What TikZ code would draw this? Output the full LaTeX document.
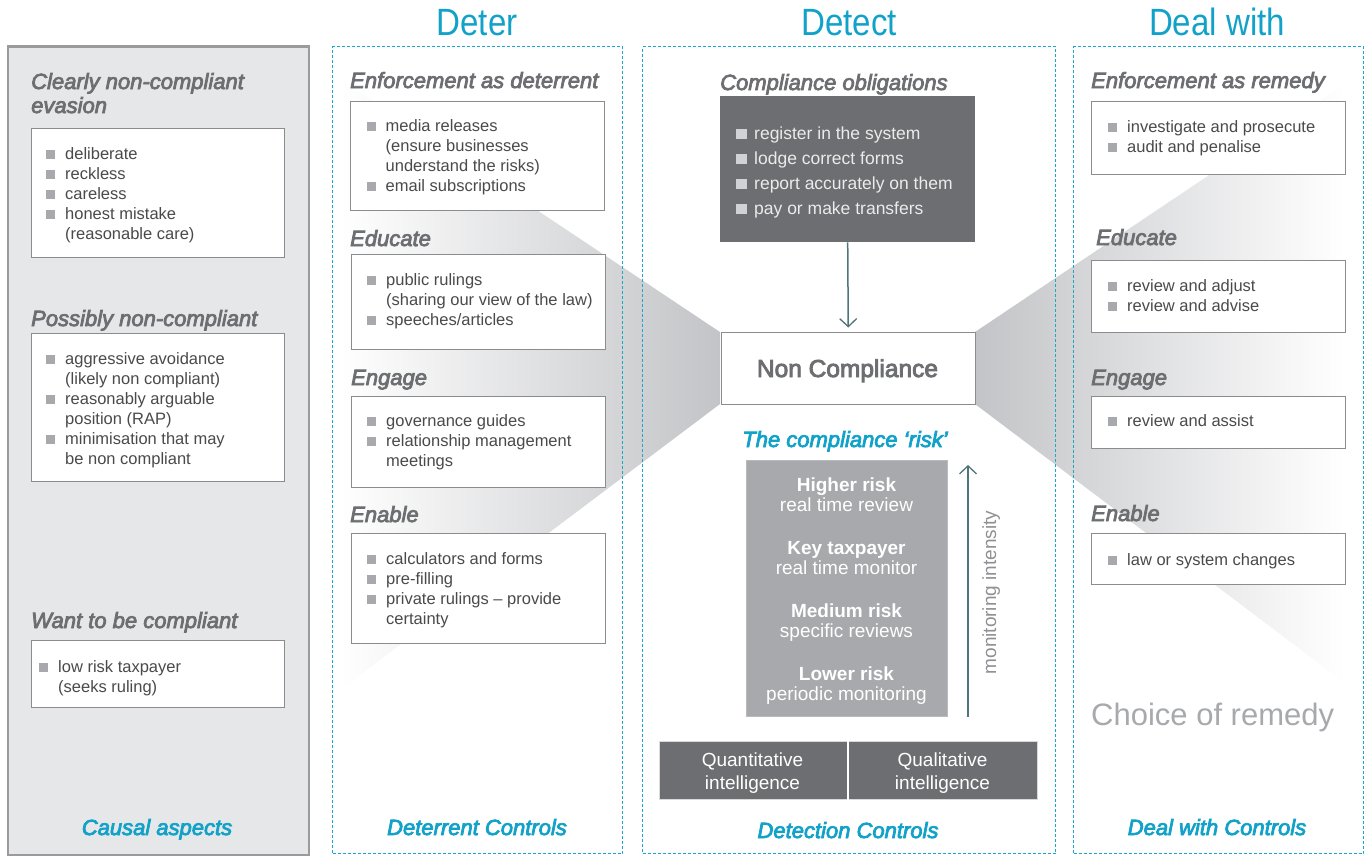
\documentclass[tikz,border=0pt]{standalone}
\usepackage{fontspec}
\setmainfont{Liberation Sans}
\newfontfamily\medfam[FakeBold=3.5]{Liberation Sans}
\newfontfamily\titlefam[FakeStretch=0.87]{Liberation Sans}
\usetikzlibrary{arrows.meta}
\definecolor{cyanT}{HTML}{12A2C9}
\definecolor{dashc}{HTML}{1CA6CE}
\definecolor{headg}{HTML}{6D6E71}
\definecolor{txtg}{HTML}{4A4A4C}
\definecolor{bsq}{HTML}{A7A9AC}
\definecolor{boxb}{HTML}{8C8C8E}
\definecolor{panelbg}{HTML}{E6E7E8}
\definecolor{panelb}{HTML}{9A9B9D}
\definecolor{darkbox}{HTML}{6D6E71}
\definecolor{riskbox}{HTML}{A7A9AC}
\definecolor{arrowc}{HTML}{4F7579}
\definecolor{wedgec}{HTML}{C3C4C7}
\definecolor{lightsq}{HTML}{D1D2D4}
\definecolor{darktext}{HTML}{EBEBEB}
\definecolor{monic}{HTML}{8E9093}
\newcommand{\mystrut}{\rule[-6pt]{0pt}{20pt}}
\newcommand{\dkstrut}{\rule[-7.5pt]{0pt}{25pt}}
\newcommand{\bsqr}{\textcolor{bsq}{\rule{9pt}{9pt}}\hspace{10pt}}
\newcommand{\bindent}{\hspace*{19pt}}
\newcommand{\dsqr}{\textcolor{lightsq}{\rule{10.5pt}{10.5pt}}\hspace{7.5pt}}
\begin{document}
\begin{tikzpicture}[x=1pt,y=-1pt,
  wbox/.style={draw=boxb, line width=1.2pt, fill=white, inner sep=0pt, anchor=north west},
  blist/.style={inner sep=0pt, anchor=north west, align=left, text=txtg, font=\fontsize{16.5}{20}\selectfont},
  dlist/.style={inner sep=0pt, anchor=north west, align=left, text=darktext, font=\fontsize{17.5}{25}\selectfont},
  head/.style={inner sep=0pt, anchor=base west, text=headg, font=\medfam\itshape\fontsize{22}{24}\selectfont},
  ctrl/.style={inner sep=0pt, anchor=base, text=cyanT, font=\medfam\itshape\fontsize{22}{24}\selectfont},
  ttl/.style={inner sep=0pt, anchor=base, text=cyanT, font=\titlefam\fontsize{38}{40}\selectfont},
  col/.style={draw=dashc, line width=1.3pt, dash pattern=on 3pt off 2pt, inner sep=0pt, anchor=north west},
  rtext/.style={inner sep=0pt, anchor=base, text=white, font=\fontsize{19}{20}\selectfont},
  rbold/.style={rtext, font=\bfseries\fontsize{19}{20}\selectfont},
  qtext/.style={inner sep=0pt, anchor=base, text=white, font=\fontsize{19}{23}\selectfont},
  arr/.style={draw=arrowc, line width=1.5pt, -{Straight Barb[length=8pt,width=17pt,line width=1.3pt]}}
]
\useasboundingbox (0,0) rectangle (1370,855);

% gradient wedges
\shade[left color=white, right color=wedgec] (340,79) -- (720,332) -- (720,404) -- (340,690) -- cycle;
\shade[left color=wedgec, right color=white] (975,332) -- (1345,84) -- (1345,683) -- (975,404) -- cycle;

% left panel
\node[draw=panelb, fill=panelbg, line width=1.8pt, inner sep=0pt, anchor=north west,
      minimum width=301pt, minimum height=808pt] (panel) at (7,46) {};
\draw[panelb, line width=3pt] (panel.north west) -- (panel.north east);

% dashed columns
\node[col, minimum width=290pt, minimum height=807pt] (cdeter) at (332,46) {};
\node[col, minimum width=413pt, minimum height=807pt] (cdetect) at (642,46) {};
\node[col, minimum width=290pt, minimum height=807pt] (cdeal) at (1073,46) {};

% titles
\node[ttl] (tdeter) at (477,35) {Deter};
\node[ttl] (tdetect) at (849,35) {Detect};
\node[ttl] (tdeal) at (1217,35) {Deal with};

% ---------- left panel ----------
\node[head] (h1a) at (31,89) {Clearly non-compliant};
\node[head] (h1b) at (31,113) {evasion};
\node[wbox, minimum width=253pt, minimum height=129pt] (b1) at (31,128) {};
\node[blist] (l1) at (46,145) {\bsqr deliberate\mystrut\\ \bsqr reckless\mystrut\\ \bsqr careless\mystrut\\ \bsqr honest mistake\mystrut\\ \bindent(reasonable care)\mystrut};

\node[head] (h2) at (31,326) {Possibly non-compliant};
\node[wbox, minimum width=253pt, minimum height=148pt] (b2) at (31,333) {};
\node[blist] (l2) at (46,350) {\bsqr aggressive avoidance\mystrut\\ \bindent(likely non compliant)\mystrut\\ \bsqr reasonably arguable\mystrut\\ \bindent position (RAP)\mystrut\\ \bsqr minimisation that may\mystrut\\ \bindent be non compliant\mystrut};

\node[head] (h3) at (31,628) {Want to be compliant};
\node[wbox, minimum width=253pt, minimum height=67pt] (b3) at (31,640) {};
\node[blist] (l3) at (39,658) {\bsqr low risk taxpayer\mystrut\\ \bindent(seeks ruling)\mystrut};

\node[ctrl] (cc1) at (157,835) {Causal aspects};

% ---------- Deter ----------
\node[head] (dh1) at (350,88) {Enforcement as deterrent};
\node[wbox, minimum width=254pt, minimum height=109pt] (db1) at (350,101) {};
\node[blist] (dl1) at (366.5,117) {\bsqr media releases\mystrut\\ \bindent(ensure businesses\mystrut\\ \bindent understand the risks)\mystrut\\ \bsqr email subscriptions\mystrut};

\node[head] (dh2) at (350,246) {Educate};
\node[wbox, minimum width=254pt, minimum height=95pt] (db2) at (351,254) {};
\node[blist] (dl2) at (367,271) {\bsqr public rulings\mystrut\\ \bindent(sharing our view of the law)\mystrut\\ \bsqr speeches/articles\mystrut};

\node[head] (dh3) at (351,385) {Engage};
\node[wbox, minimum width=254pt, minimum height=91pt] (db3) at (351,396) {};
\node[blist] (dl3) at (367,412) {\bsqr governance guides\mystrut\\ \bsqr relationship management\mystrut\\ \bindent meetings\mystrut};

\node[head] (dh4) at (350,522) {Enable};
\node[wbox, minimum width=254pt, minimum height=110pt] (db4) at (351,533) {};
\node[blist] (dl4) at (367,550) {\bsqr calculators and forms\mystrut\\ \bsqr pre-filling\mystrut\\ \bsqr private rulings – provide\mystrut\\ \bindent certainty\mystrut};

\node[ctrl] (cc2) at (477,835) {Deterrent Controls};

% ---------- Detect ----------
\node[head] (oh) at (720,90) {Compliance obligations};
\node[fill=darkbox, inner sep=0pt, anchor=north west, minimum width=255pt, minimum height=146pt] (oblig) at (720,96) {};
\node[dlist] (ol) at (736,121.5) {\dsqr register in the system\dkstrut\\ \dsqr lodge correct forms\dkstrut\\ \dsqr report accurately on them\dkstrut\\ \dsqr pay or make transfers\dkstrut};

\node[wbox, draw=boxb, line width=1.5pt, minimum width=254pt, minimum height=72pt] (nc) at (720.5,331.5) {};
\node[inner sep=0pt, anchor=base, text=headg, font=\medfam\fontsize{24.5}{26}\selectfont] (nct) at (847.5,377) {Non Compliance};
\draw[arr] (oblig.south) -- ([yshift=4pt]nc.north);

\node[ctrl] (riskh) at (845,447) {The compliance ‘risk’};
\node[fill=riskbox, draw=riskbox!80!white, line width=0.8pt, inner sep=0pt, anchor=north west, minimum width=201pt, minimum height=256pt] (risk) at (746,460) {};
\node[rbold] (r1) at (846.5,491) {Higher risk};
\node[rtext] (r2) at (846.5,511) {real time review};
\node[rbold] (r3) at (846.5,554) {Key taxpayer};
\node[rtext] (r4) at (846.5,574) {real time monitor};
\node[rbold] (r5) at (846.5,617) {Medium risk};
\node[rtext] (r6) at (846.5,637) {specific reviews};
\node[rbold] (r7) at (846.5,680) {Lower risk};
\node[rtext] (r8) at (846.5,700) {periodic monitoring};

\coordinate (mbot) at (968,717);
\coordinate (mtop) at (968,465);
\draw[arr] (mbot) -- (mtop);
\node[inner sep=0pt, anchor=base, rotate=90, text=monic, font=\fontsize{19}{20}\selectfont] (mint) at (996,592.5) {monitoring intensity};

\node[fill=darkbox, draw=white!85!black, line width=1.2pt, inner sep=0pt, anchor=north west, minimum width=188pt, minimum height=58pt] (q1) at (659,741) {};
\node[fill=darkbox, draw=white!85!black, line width=1.2pt, inner sep=0pt, anchor=north west, minimum width=189pt, minimum height=58pt] (q2) at (848,741) {};
\draw[white, line width=1.5pt] (q1.north east) -- (q1.south east);
\node[qtext] (q1a) at (752.5,766) {Quantitative};
\node[qtext] (q1b) at (752.5,789) {intelligence};
\node[qtext] (q2a) at (942.5,766) {Qualitative};
\node[qtext] (q2b) at (942.5,789) {intelligence};

\node[ctrl] (cc3) at (848,838) {Detection Controls};

% ---------- Deal with ----------
\node[head] (eh1) at (1091,88) {Enforcement as remedy};
\node[wbox, minimum width=254pt, minimum height=73pt] (eb1) at (1091,101) {};
\node[blist] (el1) at (1108,118) {\bsqr investigate and prosecute\mystrut\\ \bsqr audit and penalise\mystrut};

\node[head] (eh2) at (1096,245) {Educate};
\node[wbox, minimum width=254pt, minimum height=72pt] (eb2) at (1091,260) {};
\node[blist] (el2) at (1108,277) {\bsqr review and adjust\mystrut\\ \bsqr review and advise\mystrut};

\node[head] (eh3) at (1091,385) {Engage};
\node[wbox, minimum width=254pt, minimum height=52pt] (eb3) at (1091,396) {};
\node[blist] (el3) at (1108,412) {\bsqr review and assist\mystrut};

\node[head] (eh4) at (1091,521) {Enable};
\node[wbox, minimum width=254pt, minimum height=51pt] (eb4) at (1091,533) {};
\node[blist] (el4) at (1108,551) {\bsqr law or system changes\mystrut};

\node[inner sep=0pt, anchor=base west, text=bsq, font=\fontsize{31}{33}\selectfont] (remedy) at (1091,725) {Choice of remedy};

\node[ctrl] (cc4) at (1217,835) {Deal with Controls};
\end{tikzpicture}
\end{document}
